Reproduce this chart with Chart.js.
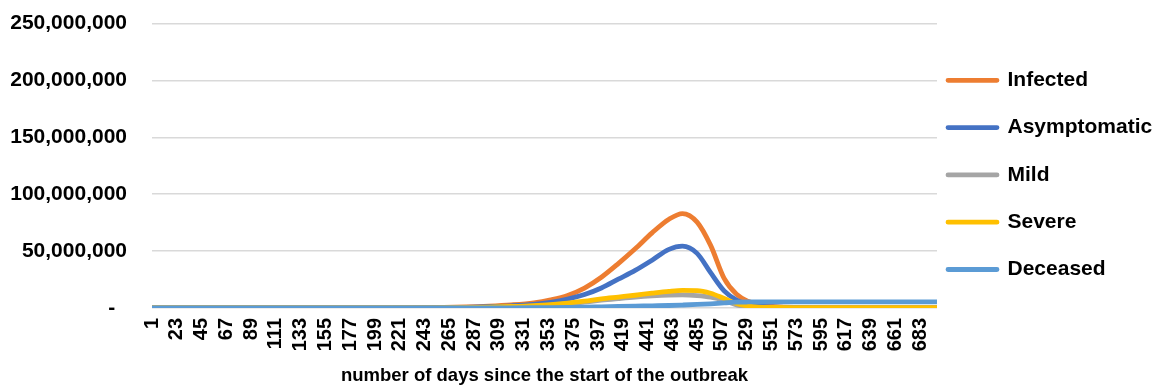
<!DOCTYPE html>
<html>
<head>
<meta charset="utf-8">
<title>Outbreak simulation</title>
<script src="https://cdn.jsdelivr.net/npm/chart.js@4.4.1/dist/chart.umd.min.js"></script>
<style>
  html, body { margin: 0; padding: 0; background: #fff; overflow: hidden; }
  canvas { display: block; }
</style>
</head>
<body>
<canvas id="outbreak-chart" width="1156" height="388"></canvas>
<script>
// sample days (x values) shared by all series
const days = [1, 50, 100, 150, 200, 250, 280, 300, 320, 340, 355, 370, 385, 400, 415, 430, 445, 460, 472, 485, 497, 509, 520, 530, 540, 555, 575, 600, 650, 698];

// values in millions of people
const infected     = [0, 0, 0.01, 0.03, 0.1, 0.4, 1, 1.7, 2.8, 4.6, 7.2, 11, 17.5, 27, 39, 52, 66, 78, 83, 75.5, 55, 26, 12, 6, 3, 1.2, 0.5, 0.3, 0.15, 0.1];
const asymptomatic = [0, 0, 0.01, 0.02, 0.07, 0.25, 0.6, 1.1, 1.9, 3.2, 5, 7.8, 11.8, 17.6, 25.3, 33, 42, 51.5, 54.3, 48, 31, 15, 7, 3.3, 1.6, 0.7, 0.3, 0.15, 0.08, 0.05];
const mild         = [0, 0, 0, 0.01, 0.03, 0.12, 0.3, 0.55, 1, 1.7, 2.5, 3.6, 5.2, 6.9, 8.3, 9.6, 10.6, 11.3, 11.5, 10.9, 9.5, 6.6, 2.8, 1, 0.4, 0.15, 0.08, 0.05, 0.03, 0.02];
const severe       = [0, 0, 0, 0.01, 0.04, 0.15, 0.4, 0.7, 1.3, 2.1, 3, 4.3, 6, 8, 9.6, 11.2, 13, 14.6, 15.4, 15.3, 13, 8.4, 4, 1.8, 0.8, 0.5, 0.4, 0.35, 0.3, 0.3];
const deceased     = [0, 0, 0, 0, 0.01, 0.03, 0.06, 0.1, 0.15, 0.22, 0.3, 0.45, 0.7, 1, 1.3, 1.6, 1.9, 2.2, 2.6, 3.1, 3.7, 4.5, 5.1, 5.3, 5.35, 5.4, 5.4, 5.4, 5.4, 5.4];

const seriesNames = ['Infected', 'Asymptomatic', 'Mild', 'Severe', 'Deceased'];
const seriesValues = [infected, asymptomatic, mild, severe, deceased];
const seriesColors = ['#ED7D31', '#4472C4', '#A5A5A5', '#FFC000', '#5B9BD5'];

// category labels printed under the axis
const xTickDays = [1, 23, 45, 67, 89, 111, 133, 155, 177, 199, 221, 243, 265, 287, 309, 331, 353, 375, 397, 419, 441, 463, 485, 507, 529, 551, 573, 595, 617, 639, 661, 683];
const yTickValues = [0, 50000000, 100000000, 150000000, 200000000, 250000000];
const xTitle = 'number of days since the start of the outbreak';

Chart.defaults.font.family = '"Liberation Sans", Arial, sans-serif';
Chart.defaults.font.weight = 'bold';
Chart.defaults.color = '#000';

// later series sit on top, like in the spreadsheet
const datasets = seriesNames.map((name, i) => ({
    label: name,
    data: days.map((d, j) => ({ x: d, y: seriesValues[i][j] * 1000000 })),
    borderColor: seriesColors[i],
    backgroundColor: seriesColors[i],
    order: seriesNames.length - i
}));

// move the legend next to the plot, where the original has it
const legendPlacer = {
    id: 'legendPlacer',
    afterLayout(chart) {
        const lg = chart.legend;
        lg.left = chart.chartArea.right - 15.3;
        lg.right = chart.width;
        lg.top = 43.5;
    }
};

const ctx = document.getElementById('outbreak-chart').getContext('2d');
new Chart(ctx, {
    type: 'line',
    data: { datasets: datasets },
    plugins: [legendPlacer],
    options: {
        responsive: false,
        animation: false,
        layout: { padding: { left: 10, right: 0, top: 23.5, bottom: 1 } },
        elements: {
            point: { radius: 0 },
            line: { borderWidth: 4.8, cubicInterpolationMode: 'monotone', borderCapStyle: 'round', borderJoinStyle: 'round' }
        },
        plugins: {
            tooltip: { enabled: false },
            legend: {
                position: 'right',
                align: 'start',
                maxWidth: 219,
                labels: {
                    boxWidth: 49,
                    boxHeight: 0,
                    padding: 26.3,
                    color: '#000',
                    font: { size: 21, weight: 'bold' },
                    sort: (a, b) => a.datasetIndex - b.datasetIndex
                }
            }
        },
        scales: {
            x: {
                type: 'linear',
                min: 1,
                max: 698,
                afterBuildTicks: (scale) => { scale.ticks = xTickDays.map(v => ({ value: v })); },
                afterFit: (scale) => { scale.height = 79; },
                ticks: { autoSkip: false, minRotation: 90, maxRotation: 90, padding: 10, color: '#000', font: { size: 20, weight: 'bold' } },
                grid: { display: false, drawTicks: false },
                border: { display: false },
                title: { display: true, text: xTitle, color: '#000', font: { size: 18.5, weight: 'bold' }, padding: { top: 4, bottom: 0 } }
            },
            y: {
                min: 0,
                max: 250000000,
                afterBuildTicks: (scale) => { scale.ticks = yTickValues.map(v => ({ value: v })); },
                afterFit: (scale) => {
                    scale.width = 142;
                    scale.paddingTop = 0;
                    scale.paddingBottom = 0;
                },
                ticks: {
                    padding: 25,
                    color: '#000',
                    font: { size: 21, weight: 'bold' },
                    callback: (v) => v === 0 ? '-  ' : v.toLocaleString('en-US')
                },
                grid: { color: '#d9d9d9', lineWidth: 1.5, drawTicks: false },
                border: { display: false }
            }
        }
    }
});
</script>
</body>
</html>
